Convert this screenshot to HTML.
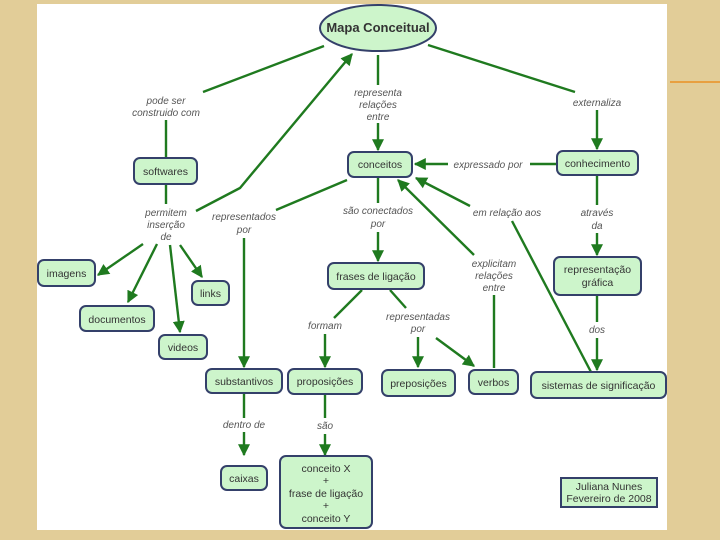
<!DOCTYPE html>
<html><head><meta charset="utf-8"><style>
html,body{margin:0;padding:0;width:720px;height:540px;overflow:hidden;background:#e2cd98;}
svg{display:block}
.n{fill:#cdf5cb;stroke:#34406a;stroke-width:2}
.t{font-family:"Liberation Sans",sans-serif;font-size:10.5px;fill:#333;text-anchor:middle}
.l{font-family:"Liberation Sans",sans-serif;font-size:10px;fill:#555;font-style:italic;text-anchor:middle}
.e{stroke:#1f7a1f;stroke-width:2.4;fill:none}
</style></head><body>
<svg width="720" height="540" viewBox="0 0 720 540">
<defs>
<marker id="a" viewBox="0 0 10 10" refX="9" refY="5" markerWidth="5" markerHeight="5" orient="auto" markerUnits="strokeWidth"><path d="M0,0L10,5L0,10z" fill="#1f7a1f"/></marker>
</defs>
<rect x="0" y="0" width="720" height="540" fill="#e2cd98"/>
<rect x="37" y="4" width="630" height="526" fill="#fff"/>
<line x1="670" y1="82" x2="720" y2="82" stroke="#e8a040" stroke-width="2"/>
<g class="e">
<line x1="324" y1="46" x2="203" y2="92"/>
<line x1="166" y1="120" x2="166" y2="158"/>
<line x1="166" y1="184" x2="166" y2="204"/>
<polyline points="196,211 240,188 352,54" marker-end="url(#a)"/>
<line x1="143" y1="244" x2="98" y2="275" marker-end="url(#a)"/>
<line x1="157" y1="244" x2="128" y2="302" marker-end="url(#a)"/>
<line x1="170" y1="245" x2="180" y2="332" marker-end="url(#a)"/>
<line x1="180" y1="245" x2="202" y2="277" marker-end="url(#a)"/>
<line x1="347" y1="180" x2="276" y2="210"/>
<line x1="244" y1="238" x2="244" y2="367" marker-end="url(#a)"/>
<line x1="378" y1="55" x2="378" y2="85"/>
<line x1="378" y1="123" x2="378" y2="150" marker-end="url(#a)"/>
<line x1="428" y1="45" x2="575" y2="92"/>
<line x1="597" y1="110" x2="597" y2="149" marker-end="url(#a)"/>
<line x1="557" y1="164" x2="530" y2="164"/>
<line x1="448" y1="164" x2="415" y2="164" marker-end="url(#a)"/>
<line x1="378" y1="178" x2="378" y2="203"/>
<line x1="378" y1="232" x2="378" y2="261" marker-end="url(#a)"/>
<line x1="597" y1="176" x2="597" y2="205"/>
<line x1="597" y1="233" x2="597" y2="255" marker-end="url(#a)"/>
<line x1="597" y1="296" x2="597" y2="322"/>
<line x1="597" y1="338" x2="597" y2="370" marker-end="url(#a)"/>
<line x1="591" y1="372" x2="512" y2="221"/>
<line x1="470" y1="206" x2="416" y2="178" marker-end="url(#a)"/>
<line x1="494" y1="368" x2="494" y2="295"/>
<line x1="474" y1="255" x2="398" y2="180" marker-end="url(#a)"/>
<line x1="362" y1="290" x2="334" y2="318"/>
<line x1="325" y1="334" x2="325" y2="367" marker-end="url(#a)"/>
<line x1="390" y1="290" x2="406" y2="308"/>
<line x1="418" y1="337" x2="418" y2="367" marker-end="url(#a)"/>
<line x1="436" y1="338" x2="474" y2="366" marker-end="url(#a)"/>
<line x1="244" y1="394" x2="244" y2="418"/>
<line x1="244" y1="432" x2="244" y2="455" marker-end="url(#a)"/>
<line x1="325" y1="395" x2="325" y2="418"/>
<line x1="325" y1="434" x2="325" y2="455" marker-end="url(#a)"/>
</g>
<text class="l" x="166" y="104">pode ser</text><text class="l" x="166" y="116">construido com</text>
<text class="l" x="166" y="216">permitem</text><text class="l" x="166" y="228">inserção</text><text class="l" x="166" y="240">de</text>
<text class="l" x="244" y="220">representados</text><text class="l" x="244" y="233">por</text>
<text class="l" x="378" y="96">representa</text><text class="l" x="378" y="108">relações</text><text class="l" x="378" y="120">entre</text>
<text class="l" x="597" y="106">externaliza</text>
<text class="l" x="488" y="168">expressado por</text>
<text class="l" x="378" y="214">são conectados</text><text class="l" x="378" y="227">por</text>
<text class="l" x="597" y="216">através</text><text class="l" x="597" y="229">da</text>
<text class="l" x="597" y="333">dos</text>
<text class="l" x="507" y="216">em relação aos</text>
<text class="l" x="494" y="267">explicitam</text><text class="l" x="494" y="279">relações</text><text class="l" x="494" y="291">entre</text>
<text class="l" x="325" y="329">formam</text>
<text class="l" x="418" y="320">representadas</text><text class="l" x="418" y="332">por</text>
<text class="l" x="244" y="428">dentro de</text>
<text class="l" x="325" y="429">são</text>
<ellipse class="n" cx="378" cy="28" rx="58" ry="23"/>
<text class="t" x="378" y="32" style="font-weight:bold;font-size:13px">Mapa Conceitual</text>
<rect class="n" x="134" y="158" width="63" height="26" rx="6"/><text class="t" x="165.5" y="175">softwares</text>
<rect class="n" x="348" y="152" width="64" height="25" rx="6"/><text class="t" x="380" y="168">conceitos</text>
<rect class="n" x="557" y="151" width="81" height="24" rx="6"/><text class="t" x="597.5" y="167">conhecimento</text>
<rect class="n" x="38" y="260" width="57" height="26" rx="6"/><text class="t" x="66.5" y="277">imagens</text>
<rect class="n" x="80" y="306" width="74" height="25" rx="6"/><text class="t" x="117" y="323">documentos</text>
<rect class="n" x="159" y="335" width="48" height="24" rx="6"/><text class="t" x="183" y="351">videos</text>
<rect class="n" x="192" y="281" width="37" height="24" rx="6"/><text class="t" x="210.5" y="297">links</text>
<rect class="n" x="206" y="369" width="76" height="24" rx="6"/><text class="t" x="244" y="385">substantivos</text>
<rect class="n" x="288" y="369" width="74" height="25" rx="6"/><text class="t" x="325" y="385">proposições</text>
<rect class="n" x="221" y="466" width="46" height="24" rx="6"/><text class="t" x="244" y="482">caixas</text>
<rect class="n" x="280" y="456" width="92" height="72" rx="6"/>
<text class="t" x="326" y="472">conceito X</text><text class="t" x="326" y="484">+</text><text class="t" x="326" y="497">frase de ligação</text><text class="t" x="326" y="509">+</text><text class="t" x="326" y="522">conceito Y</text>
<rect class="n" x="328" y="263" width="96" height="26" rx="6"/><text class="t" x="376" y="280">frases de ligação</text>
<rect class="n" x="382" y="370" width="73" height="26" rx="6"/><text class="t" x="418.5" y="387">preposições</text>
<rect class="n" x="469" y="370" width="49" height="24" rx="6"/><text class="t" x="493.5" y="386">verbos</text>
<rect class="n" x="531" y="372" width="135" height="26" rx="6"/><text class="t" x="598.5" y="389">sistemas de significação</text>
<rect class="n" x="554" y="257" width="87" height="38" rx="6"/><text class="t" x="597.5" y="273">representação</text><text class="t" x="597.5" y="286">gráfica</text>
<rect class="n" x="561" y="478" width="96" height="29" rx="0"/><text class="t" x="609" y="490">Juliana Nunes</text><text class="t" x="609" y="502">Fevereiro de 2008</text>
</svg>
</body></html>
